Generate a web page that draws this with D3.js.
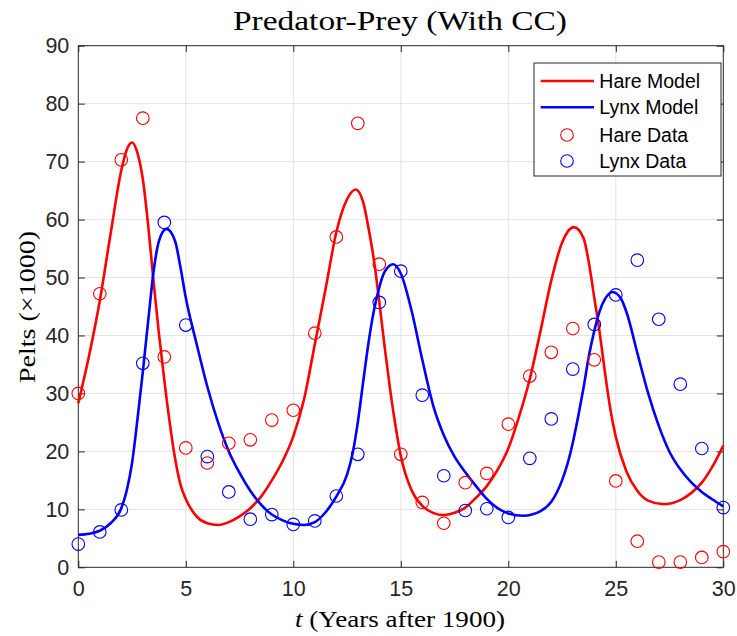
<!DOCTYPE html>
<html>
<head>
<meta charset="utf-8">
<script src="https://cdn.jsdelivr.net/npm/d3@7"></script>
<style>
  body { margin: 0; background: #fff; }
  .tick-label { font-family: 'Liberation Sans', Arial, sans-serif; font-size: 21.5px; fill: #262626; }
  .legend-label { font-family: 'Liberation Sans', Arial, sans-serif; font-size: 19.5px; fill: #000; }
  .latex { font-family: 'Liberation Serif', 'Times New Roman', serif; fill: #000; }
</style>
</head>
<body>
<div id="chart"></div>
<script>
'use strict';

// observed pelts (x1000), one value per year 0..30
var years = d3.range(0, 31);
var hareData = [30.0, 47.2, 70.3, 77.5, 36.3, 20.6, 18.0, 21.4, 22.0, 25.4, 27.1,
                40.4, 57.0, 76.6, 52.3, 19.5, 11.2, 7.6, 14.6, 16.2, 24.7,
                33.0, 37.1, 41.2, 35.8, 14.9, 4.5, 0.9, 0.9, 1.7, 2.7];
var lynxData = [4.0, 6.1, 9.9, 35.2, 59.5, 41.8, 19.1, 13.0, 8.3, 9.1, 7.4,
                8.0, 12.3, 19.5, 45.7, 51.1, 29.7, 15.8, 9.8, 10.1, 8.6,
                18.8, 25.6, 34.2, 41.9, 47.0, 53.0, 42.8, 31.6, 20.5, 10.3];

// model curves
var hareModelT = [0, 0.5, 1, 1.5, 2, 2.25, 2.5, 2.75, 3, 3.25, 3.5, 3.75, 4, 4.25, 4.5, 4.75, 5, 5.5,
                  6, 6.5, 7, 7.5, 8, 8.5, 9, 9.5, 10, 10.5, 11, 11.5, 12, 12.5, 12.9, 13.25, 13.5,
                  13.75, 14, 14.25, 14.5, 14.75, 15, 15.5, 16, 16.5, 17, 17.5, 18, 18.5, 19, 19.5,
                  20, 20.5, 21, 21.5, 22, 22.5, 23.05, 23.5, 23.75, 24, 24.25, 24.5, 24.75,
                  25, 25.5, 26, 26.5, 27.2, 28, 28.5, 29, 29.5, 30];
var hareModel  = [28.3, 36.5, 46, 57.5, 68.5, 72, 73.3, 71.5, 67, 59, 49.3, 40.3, 32.3, 25, 18.8, 14.3, 11.8, 8.8,
                  7.6, 7.3, 7.8, 8.8, 10.2, 12.2, 15, 18.3, 22.6, 29, 38.5, 48, 57.8, 63.5, 65.2, 63, 58.5,
                  53, 45.8, 38, 30.8, 24.5, 19.2, 13.3, 10.6, 9.4, 9.0, 9.4, 10.3, 12.0, 14.0, 16.8,
                  20.5, 26, 32.5, 40.8, 49.5, 56, 58.7, 56.8, 52.5, 46.5, 40.5, 33.5, 27.2,
                  22.5, 16.5, 13.2, 11.5, 10.9, 11.6, 12.8, 14.6, 17.4, 21];

var lynxModelT = [0, 0.5, 1, 1.5, 2, 2.25, 2.5, 2.75, 3, 3.25, 3.5, 3.75, 4.1, 4.5, 4.75, 5, 5.5,
                  6, 6.5, 7, 7.5, 8, 8.5, 9, 9.5, 10, 10.5, 11, 11.5, 12, 12.5, 12.75, 13, 13.25, 13.5,
                  13.75, 14, 14.25, 14.65, 15, 15.5, 16, 16.5, 17, 17.5, 18, 18.5, 19, 19.5,
                  20, 20.7, 21.5, 22, 22.5, 22.75, 23, 23.25, 23.5, 23.75, 24, 24.25, 24.5, 24.85,
                  25.25, 25.5, 26, 26.5, 27, 27.5, 28, 28.5, 29, 29.5, 30];
var lynxModel  = [5.6, 5.8, 6.3, 7.6, 10.2, 13.2, 18, 25.5, 33.7, 42.5, 51, 56.3, 58.4, 56.3, 51.8, 46.5, 38.6,
                  31.2, 25, 20, 16.3, 13.2, 10.8, 9.1, 8.1, 7.5, 7.3, 7.8, 9.5, 12.2, 16, 19.5, 25, 32, 38.8,
                  44.3, 48.3, 51, 52.3, 50.7, 44.3, 35.8, 28, 22.8, 19.1, 16.4, 14, 11.8, 10.2,
                  9.3, 8.9, 9.7, 11.3, 15, 17.8, 21.5, 26, 31, 36.5, 40.8, 44.2, 46.3, 47.5,
                  46.3, 44, 37, 30.1, 24.4, 19.9, 16.9, 14.7, 13, 11.7, 10.5];

var xTicks = [0, 5, 10, 15, 20, 25, 30];
var yTicks = [0, 10, 20, 30, 40, 50, 60, 70, 80, 90];
var legendLabels = ['Hare Model', 'Lynx Model', 'Hare Data', 'Lynx Data'];

var width = 737, height = 636;
var area = { left: 78.3, top: 45.7, right: 723.3, bottom: 567.3 };
var axisColor = '#262626', gridColor = '#e3e3e3';
var red = '#ff0000', blue = '#0000ff';

var svg = d3.select('#chart').append('svg')
  .attr('width', width)
  .attr('height', height);

var x = d3.scaleLinear().domain([0, 30]).range([area.left, area.right]);
var y = d3.scaleLinear().domain([0, 90]).range([area.bottom, area.top]);

// grid
svg.append('g').selectAll('line')
  .data(xTicks.slice(1, -1))
  .enter().append('line')
    .attr('x1', function(d) { return x(d); })
    .attr('x2', function(d) { return x(d); })
    .attr('y1', area.top).attr('y2', area.bottom)
    .attr('stroke', gridColor).attr('stroke-width', 1);

svg.append('g').selectAll('line')
  .data(yTicks.slice(1, -1))
  .enter().append('line')
    .attr('x1', area.left).attr('x2', area.right)
    .attr('y1', function(d) { return y(d); })
    .attr('y2', function(d) { return y(d); })
    .attr('stroke', gridColor).attr('stroke-width', 1);

// axes (ticks point inward, MATLAB style)
var tickLen = 6.5;
function styleAxis(g) {
  g.select('.domain').remove();
  g.selectAll('.tick line').attr('stroke', axisColor);
  g.selectAll('.tick text').attr('class', 'tick-label').attr('fill', axisColor);
}

svg.append('g')
  .attr('transform', 'translate(0,' + area.bottom + ')')
  .call(d3.axisBottom(x).tickValues(xTicks).tickSizeInner(-tickLen).tickSizeOuter(0).tickPadding(13))
  .call(styleAxis);

svg.append('g')
  .attr('transform', 'translate(0,' + area.top + ')')
  .call(d3.axisTop(x).tickValues(xTicks).tickSizeInner(-tickLen).tickSizeOuter(0).tickFormat(''))
  .call(styleAxis);

svg.append('g')
  .attr('transform', 'translate(' + area.left + ',0)')
  .call(d3.axisLeft(y).tickValues(yTicks).tickSizeInner(-tickLen).tickSizeOuter(0).tickPadding(9))
  .call(styleAxis);

svg.append('g')
  .attr('transform', 'translate(' + area.right + ',0)')
  .call(d3.axisRight(y).tickValues(yTicks).tickSizeInner(-tickLen).tickSizeOuter(0).tickFormat(''))
  .call(styleAxis);

svg.append('rect')
  .attr('x', area.left).attr('y', area.top)
  .attr('width', area.right - area.left).attr('height', area.bottom - area.top)
  .attr('fill', 'none').attr('stroke', axisColor).attr('stroke-width', 1);

// model lines
var lineGen = d3.line()
  .curve(d3.curveMonotoneX)
  .x(function(d) { return x(d[0]); })
  .y(function(d) { return y(d[1]); });

var plot = svg.append('g');

plot.append('path')
  .datum(d3.zip(hareModelT, hareModel))
  .attr('d', lineGen)
  .attr('fill', 'none').attr('stroke', red).attr('stroke-width', 2.6)
  .attr('stroke-linejoin', 'round');

plot.append('path')
  .datum(d3.zip(lynxModelT, lynxModel))
  .attr('d', lineGen)
  .attr('fill', 'none').attr('stroke', blue).attr('stroke-width', 2.6)
  .attr('stroke-linejoin', 'round');

// data markers
var markerR = 6.3;
plot.append('g').selectAll('circle')
  .data(d3.zip(years, hareData))
  .enter().append('circle')
    .attr('cx', function(d) { return x(d[0]); })
    .attr('cy', function(d) { return y(d[1]); })
    .attr('r', markerR)
    .attr('fill', 'none').attr('stroke', red).attr('stroke-width', 1.1);

plot.append('g').selectAll('circle')
  .data(d3.zip(years, lynxData))
  .enter().append('circle')
    .attr('cx', function(d) { return x(d[0]); })
    .attr('cy', function(d) { return y(d[1]); })
    .attr('r', markerR)
    .attr('fill', 'none').attr('stroke', blue).attr('stroke-width', 1.1);

// legend
var legend = svg.append('g').attr('transform', 'translate(534,63)');
legend.append('rect')
  .attr('width', 187).attr('height', 113)
  .attr('fill', '#fff').attr('stroke', axisColor).attr('stroke-width', 1);

var legendColors = [red, blue, red, blue];
var rowY = [18, 44.3, 72, 98];
legendLabels.forEach(function(label, i) {
  var row = legend.append('g').attr('transform', 'translate(0,' + rowY[i] + ')');
  if (i < 2) {
    row.append('line')
      .attr('x1', 6.7).attr('x2', 60)
      .attr('stroke', legendColors[i]).attr('stroke-width', 2.6);
  } else {
    row.append('circle')
      .attr('cx', 33).attr('r', markerR)
      .attr('fill', 'none').attr('stroke', legendColors[i]).attr('stroke-width', 1.1);
  }
  row.append('text')
    .attr('class', 'legend-label')
    .attr('x', 65.3).attr('dy', '0.35em')
    .text(label);
});

// title and axis labels (LaTeX-like serif, stretched to the original widths)
svg.append('text')
  .attr('class', 'latex')
  .attr('x', 400).attr('y', 30)
  .attr('text-anchor', 'middle')
  .attr('textLength', 334).attr('lengthAdjust', 'spacingAndGlyphs')
  .style('font-size', '27px')
  .text('Predator-Prey (With CC)');

var xl = svg.append('text')
  .attr('class', 'latex')
  .attr('x', 400).attr('y', 627)
  .attr('text-anchor', 'middle')
  .attr('textLength', 210).attr('lengthAdjust', 'spacingAndGlyphs')
  .style('font-size', '23px');
xl.append('tspan').style('font-style', 'italic').text('t');
xl.append('tspan').text(' (Years after 1900)');

svg.append('text')
  .attr('class', 'latex')
  .attr('transform', 'translate(35,307) rotate(-90)')
  .attr('text-anchor', 'middle')
  .attr('textLength', 152).attr('lengthAdjust', 'spacingAndGlyphs')
  .style('font-size', '23px')
  .text('Pelts (\u00d71000)');
</script>
</body>
</html>
